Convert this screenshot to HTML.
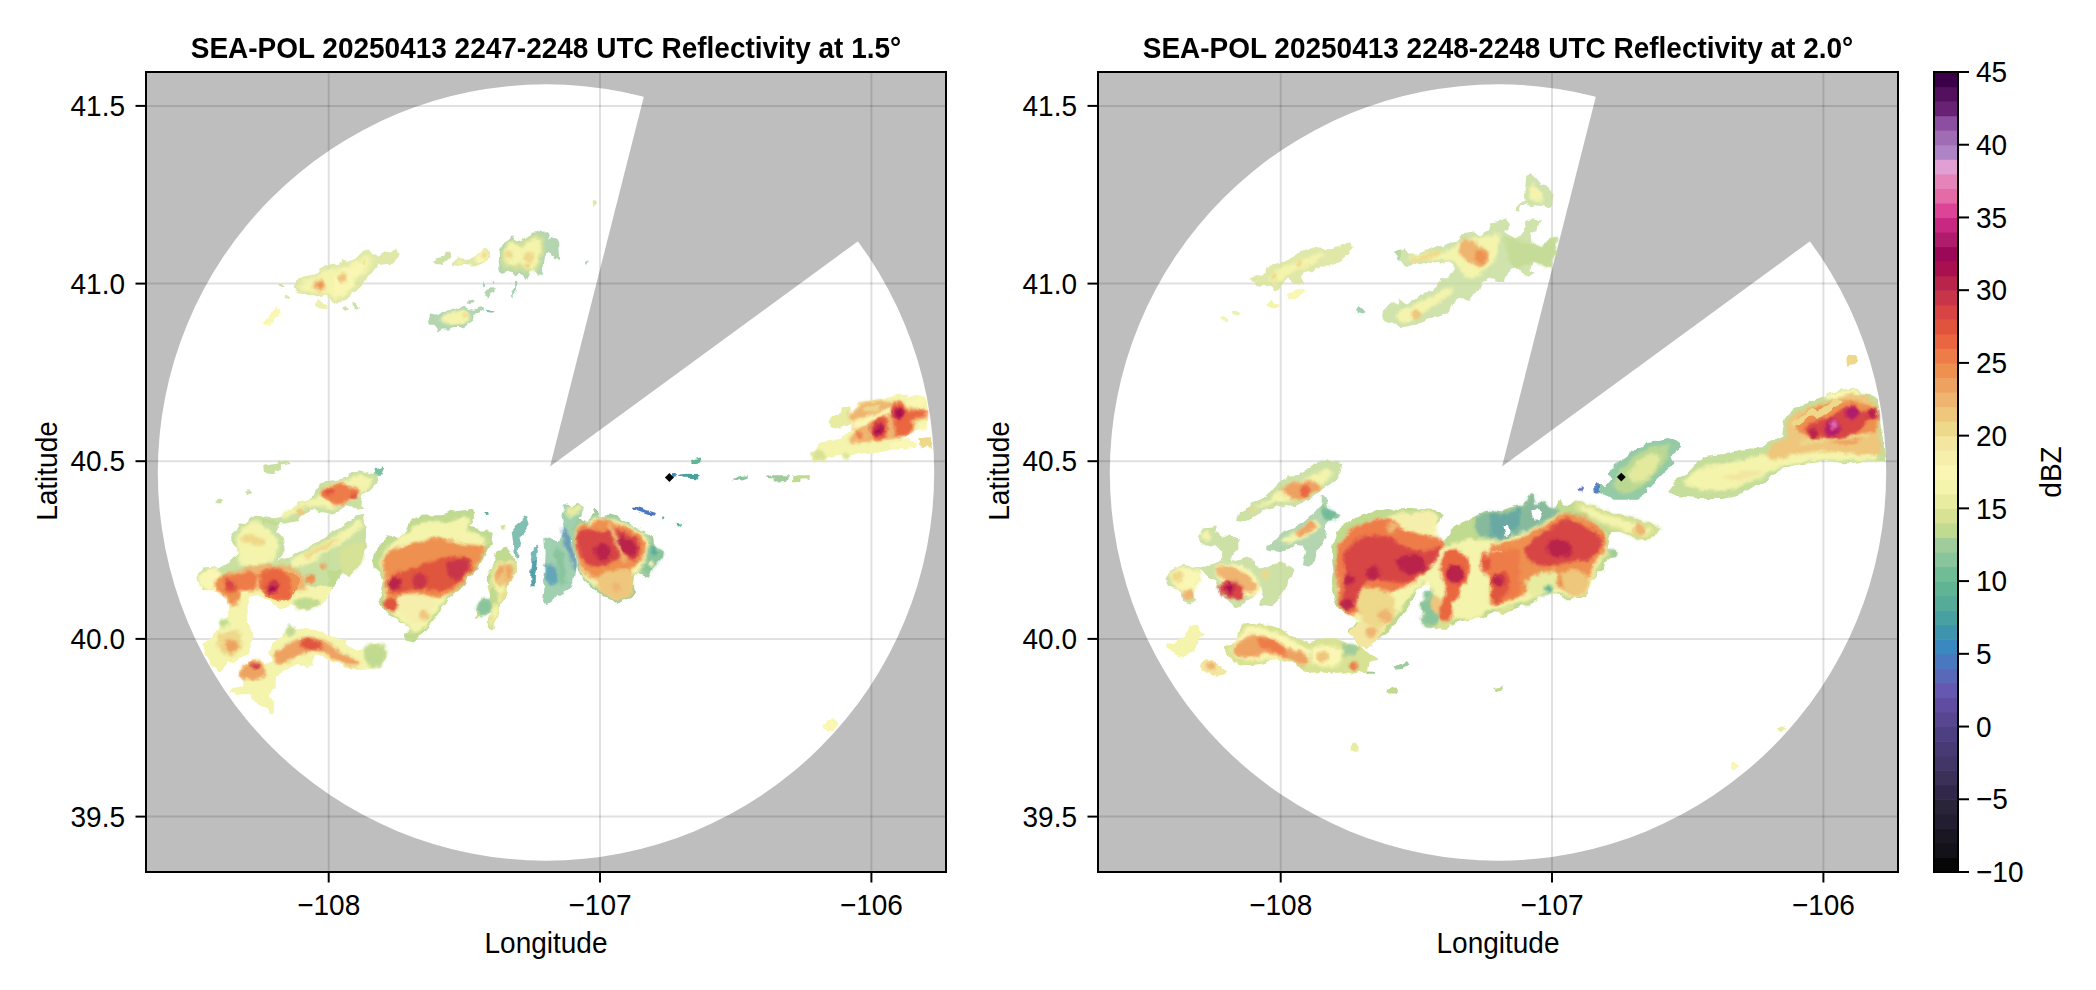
<!DOCTYPE html>
<html><head><meta charset="utf-8"><style>
html,body{margin:0;padding:0;background:#fff;width:2096px;height:990px;overflow:hidden}
svg{display:block}
text{font-family:'Liberation Sans', sans-serif;fill:#000}
</style></head><body>
<svg width="2096" height="990" viewBox="0 0 2096 990">
<defs><filter id="soft" x="-20%" y="-20%" width="140%" height="140%"><feGaussianBlur stdDeviation="1.6"/></filter><filter id="rough" x="0" y="0" width="100%" height="100%" filterUnits="userSpaceOnUse"><feTurbulence type="fractalNoise" baseFrequency="0.12" numOctaves="2" seed="3" result="n"/><feDisplacementMap in="SourceGraphic" in2="n" scale="6" xChannelSelector="R" yChannelSelector="G"/></filter></defs>
<g transform="translate(146,0)">
<clipPath id="clip0"><rect x="0" y="72" width="800" height="800"/></clipPath>
<g clip-path="url(#clip0)">
<rect x="0" y="72" width="800" height="800" fill="#bebebe"/>
<circle cx="400" cy="472.5" r="388.2" fill="#fff"/>
<path d="M404,466.5 L592.0,-274.5 L1019.6,16.3 Z" fill="#bebebe"/>
<line x1="182.7" y1="72" x2="182.7" y2="872" stroke="#000" stroke-opacity="0.12" stroke-width="2"/>
<line x1="454.0" y1="72" x2="454.0" y2="872" stroke="#000" stroke-opacity="0.12" stroke-width="2"/>
<line x1="725.4" y1="72" x2="725.4" y2="872" stroke="#000" stroke-opacity="0.12" stroke-width="2"/>
<line x1="0" y1="105.9" x2="800" y2="105.9" stroke="#000" stroke-opacity="0.12" stroke-width="2"/>
<line x1="0" y1="283.6" x2="800" y2="283.6" stroke="#000" stroke-opacity="0.12" stroke-width="2"/>
<line x1="0" y1="461.2" x2="800" y2="461.2" stroke="#000" stroke-opacity="0.12" stroke-width="2"/>
<line x1="0" y1="638.9" x2="800" y2="638.9" stroke="#000" stroke-opacity="0.12" stroke-width="2"/>
<line x1="0" y1="816.6" x2="800" y2="816.6" stroke="#000" stroke-opacity="0.12" stroke-width="2"/>
<g filter="url(#rough)"><polygon points="486.3,506.4 491.6,507.1 510.0,513.0 508.7,515.6 503.4,515.0 491.6,511.0 486.3,508.4" fill="#4a78c0"/>
<polygon points="526.0,474.3 530.8,473.9 530.9,477.2 526.5,477.7" fill="#3a88c0"/>
<polygon points="384.3,568.1 385.9,560.0 390.8,560.0 390.0,569.7 388.3,576.2 388.3,585.9 385.1,587.5 384.3,580.2" fill="#3d94ac" fill-opacity="0.8"/>
<polygon points="533.1,474.8 537.4,473.7 553.7,473.9 552.7,476.2 549.8,478.6 547.9,478.1 537.4,477.7 533.6,476.0" fill="#48a0a0"/>
<polygon points="387.8,547.8 390.5,545.2 391.8,550.4 390.5,563.5 389.2,574.0 388.5,587.2 384.6,587.2 384.6,579.3 385.2,568.8 385.9,558.3" fill="#48a0a0" fill-opacity="0.75"/>
<polygon points="365.5,530.7 370.8,524.1 376.0,520.2 378.0,515.6 380.0,516.3 382.6,524.1 378.6,530.7 374.7,538.6 373.4,546.5 372.1,558.3 369.5,558.3 368.1,547.8 366.8,539.9" fill="#55aa98" fill-opacity="0.75"/>
<polygon points="341.1,309.7 344.9,310.5 348.7,310.5 348.7,312.4 343.4,312.4 341.1,311.2" fill="#60b494" fill-opacity="0.8"/>
<polygon points="546.0,460.0 550.8,458.6 554.6,457.6 555.1,459.1 554.1,462.4 550.8,462.9 546.5,462.9" fill="#60b494"/>
<polygon points="228.6,469.1 232.8,468.4 237.8,466.3 238.1,468.4 232.8,476.9 229.3,475.5" fill="#60b494" fill-opacity="0.85"/>
<polygon points="515.9,516.9 517.8,516.3 518.5,519.5 516.5,520.5" fill="#60b494"/>
<polygon points="531.6,523.5 533.6,522.8 533.9,526.1 532.0,526.8" fill="#60b494"/>
<polygon points="339.3,511.0 341.9,510.4 342.9,513.6 339.9,514.3" fill="#60b494"/>
<polygon points="338.1,281.4 339.6,281.4 340.1,284.7 338.2,285.2" fill="#88c49c" fill-opacity="0.8"/>
<polygon points="344.6,280.6 346.4,280.9 347.6,283.2 345.7,283.5" fill="#88c49c" fill-opacity="0.8"/>
<polygon points="369.2,281.7 371.4,282.4 370.7,290.0 366.9,294.5 366.1,298.3 364.9,296.1 365.4,291.5 369.2,288.5" fill="#88c49c" fill-opacity="0.8"/>
<polygon points="587.1,479.6 591.8,478.1 595.6,475.8 601.8,475.3 601.4,477.2 595.6,479.6 591.8,481.0 587.5,480.7" fill="#88c49c"/>
<polygon points="398.3,539.9 402.3,536.0 407.5,538.6 412.8,542.5 418.0,529.4 416.7,522.8 415.4,515.0 418.0,505.8 420.7,504.4 425.9,507.1 428.6,504.4 432.5,501.8 436.4,504.4 439.1,507.1 436.4,511.0 435.1,516.3 432.5,522.8 428.6,529.4 425.9,539.9 428.6,550.4 429.9,563.5 428.6,574.0 427.2,581.9 424.6,587.2 420.7,591.1 415.4,593.7 411.5,593.7 407.5,599.0 399.7,604.2 397.0,600.3 398.3,589.8 397.0,581.9 398.3,571.4 399.0,563.5 399.7,553.0" fill="#88c49c" fill-opacity="0.8"/>
<polygon points="398.3,563.5 404.9,563.5 410.2,568.8 412.8,579.3 410.2,584.6 404.9,584.6 399.7,579.3" fill="#3a88c0" fill-opacity="0.6" filter="url(#soft)"/>
<polygon points="407.5,550.4 412.8,547.8 418.0,555.7 419.4,568.8 420.7,581.9 415.4,587.2 412.8,575.4" fill="#88c49c" filter="url(#soft)"/>
<polygon points="415.4,529.4 419.4,528.1 428.6,553.0 429.9,568.8 427.2,570.1 424.6,558.3 418.0,542.5" fill="#4a78c0" fill-opacity="0.6" filter="url(#soft)"/>
<polygon points="352.5,249.1 355.5,244.5 361.6,240.8 366.9,236.2 369.2,239.2 375.2,241.5 381.3,237.0 387.3,233.2 395.7,229.4 401.7,233.9 404.0,240.0 407.0,238.5 411.6,240.0 412.3,244.5 413.1,259.7 408.5,258.9 404.0,252.1 399.5,253.6 397.2,261.2 396.4,274.8 391.9,274.8 387.3,268.8 384.3,273.3 380.5,280.9 378.2,276.4 372.2,272.6 369.2,276.4 364.6,270.3 360.1,271.8 354.0,273.3 352.5,265.8 353.2,256.7" fill="#a0cc9c" fill-opacity="0.8"/>
<polygon points="340.4,290.0 344.9,288.2 348.7,288.5 348.7,291.5 344.9,294.5 341.1,299.1 338.8,296.1 338.1,293.0" fill="#a0cc9c" fill-opacity="0.8"/>
<polygon points="323.7,300.6 326.7,299.1 328.5,301.4 325.2,305.2 322.9,304.4" fill="#a0cc9c" fill-opacity="0.8"/>
<polygon points="439.6,260.9 441.6,260.6 441.9,264.2 440.1,264.5" fill="#a0cc9c" fill-opacity="0.8"/>
<polygon points="282.0,320.3 285.1,314.2 288.8,315.8 296.4,311.2 302.5,310.5 310.8,308.9 314.6,306.7 319.2,306.7 323.7,308.9 328.2,309.7 332.8,306.7 337.3,305.9 338.1,310.5 332.8,312.7 328.2,314.2 326.7,320.3 322.2,323.3 319.2,329.4 314.6,327.9 308.5,327.9 302.5,329.4 296.4,329.4 291.1,332.4 290.4,328.6 287.3,324.8 282.8,324.8" fill="#a0cc9c" fill-opacity="0.8"/>
<polygon points="621.9,476.2 627.1,475.3 642.9,475.3 642.4,478.6 639.5,482.0 629.0,482.4 628.1,478.6 622.4,477.9" fill="#a0cc9c"/>
<polygon points="425.9,529.4 428.6,521.5 433.8,518.9 439.1,524.1 443.0,522.8 445.6,516.3 448.2,508.4 452.2,512.3 454.8,517.6 460.1,516.3 462.7,513.6 470.6,515.0 475.8,518.9 481.1,521.5 486.3,525.5 494.2,529.4 502.1,534.6 507.3,539.9 508.7,546.5 517.8,551.7 516.5,558.3 511.3,563.5 506.0,568.8 502.1,576.7 498.1,575.4 491.6,572.7 489.0,576.7 487.6,584.6 489.0,592.4 485.0,597.7 478.5,600.3 471.9,602.9 465.3,600.3 458.8,597.7 452.2,592.4 445.6,587.2 440.4,581.9 433.8,574.0 431.2,566.2 429.9,555.7 427.2,545.2" fill="#a0cc9c"/>
<polygon points="498.1,545.2 508.7,546.5 517.8,551.7 516.5,558.3 511.3,563.5 506.0,568.8 502.1,575.4 498.1,568.8" fill="#88c49c" filter="url(#soft)"/>
<circle cx="507.3" cy="550.7" r="3.3" fill="#55aa98" filter="url(#soft)"/>
<polygon points="131.5,284.2 135.5,285.0 137.9,287.4 135.5,288.2 131.8,286.6" fill="#c0da90" fill-opacity="0.8"/>
<polygon points="195.3,307.6 199.3,306.8 202.9,310.0 200.9,311.2 196.1,309.2" fill="#c0da90" fill-opacity="0.8"/>
<polygon points="206.1,304.4 209.0,303.6 213.9,308.4 211.9,309.6 207.4,306.8" fill="#c0da90" fill-opacity="0.8"/>
<polygon points="286.6,261.2 290.4,258.2 297.2,256.7 298.7,252.1 303.2,251.4 305.5,256.7 301.0,259.7 294.9,264.2 288.8,264.2" fill="#c0da90" fill-opacity="0.8"/>
<polygon points="646.2,476.2 653.8,475.3 663.9,475.3 663.4,478.1 654.8,478.6 653.8,481.5 646.2,482.4" fill="#c0da90"/>
<polygon points="118.3,465.6 131.7,463.4 133.1,461.3 143.7,462.0 144.4,464.1 135.9,465.6 135.9,469.1 128.9,469.8 128.6,474.0 119.0,473.3" fill="#c0da90" fill-opacity="0.85"/>
<polygon points="99.2,491.7 103.4,491.3 106.2,493.1 104.1,495.0 99.9,493.8" fill="#c0da90" fill-opacity="0.85"/>
<polygon points="69.2,499.8 73.0,497.8 77.2,500.2 74.4,502.6 69.5,502.1" fill="#c0da90" fill-opacity="0.85"/>
<polygon points="168.5,492.4 172.7,483.9 179.8,481.8 193.9,479.0 201.0,476.9 205.2,471.9 213.7,470.5 222.2,472.6 227.9,475.5 232.1,474.0 231.4,481.1 227.9,486.8 223.6,491.0 216.6,495.3 215.1,499.5 217.3,509.4 210.9,509.4 205.2,506.6 199.6,505.2 193.9,509.4 185.4,513.6 177.0,512.2 167.1,509.4 160.0,512.2 154.3,516.5 152.9,522.1 143.0,523.6 134.5,522.1 131.7,526.4 123.2,523.6 117.6,525.0 114.7,517.9 119.0,516.5 127.5,519.3 134.5,517.9 143.0,510.8 152.9,503.7 161.4,500.9" fill="#c0da90" fill-opacity="0.85"/>
<polygon points="85.0,537.7 90.7,530.6 93.5,525.0 102.0,522.1 103.4,517.9 110.5,515.8 116.1,516.5 117.6,520.7 123.2,520.7 131.7,523.6 131.7,532.0 134.5,534.9 137.4,541.9 138.8,549.0 134.5,557.5 131.7,560.3 143.0,557.5 148.7,553.3 157.2,550.4 165.6,546.2 174.1,540.5 179.8,536.3 191.1,529.2 196.8,525.0 202.4,520.7 209.5,516.5 218.0,514.4 219.4,526.4 220.8,541.9 219.4,549.0 216.6,557.5 212.3,564.6 208.1,571.6 202.4,575.9 196.8,573.1 192.5,577.3 185.4,583.0 184.0,590.0 56.7,590.0 52.5,580.1 53.2,571.6 56.7,567.4 66.6,566.7 72.3,568.8 76.5,566.0 83.6,561.7 92.1,553.3 90.7,547.6 86.4,541.9" fill="#c0da90" fill-opacity="0.85"/>
<polygon points="180.4,570.0 195.5,570.0 194.0,576.1 187.9,585.2 184.9,592.7 180.4,589.7 183.4,579.1" fill="#c0da90"/>
<polygon points="227.0,560.6 230.1,550.0 237.6,542.4 239.2,536.4 246.7,534.8 254.3,537.9 258.8,534.8 261.9,524.2 263.4,519.7 272.5,515.9 284.6,515.2 296.7,515.2 305.8,512.1 314.9,510.6 327.0,509.1 330.1,513.6 327.0,519.7 324.0,525.8 330.1,527.3 336.1,531.8 342.2,530.3 346.7,533.3 345.2,542.4 340.7,551.5 336.1,560.6 330.1,569.7 322.5,578.8 314.9,587.9 307.3,593.9 299.8,603.0 293.7,612.1 287.6,619.7 281.6,627.3 275.5,634.8 267.9,642.4 258.8,639.4 257.3,634.8 263.4,628.8 260.4,624.2 251.3,619.7 242.2,615.2 236.1,609.1 233.1,600.0 236.1,590.9 237.6,581.8 234.6,572.7 228.5,566.7" fill="#c0da90"/>
<polygon points="341.9,572.7 347.1,563.5 351.1,553.0 356.3,547.8 360.3,546.5 364.2,551.7 368.1,558.3 369.5,566.2 366.8,574.0 364.2,581.9 360.3,589.8 359.0,597.7 353.7,602.9 347.1,605.6 344.5,599.0 343.2,589.8 341.9,581.9" fill="#c0da90"/>
<polygon points="146.0,288.2 152.5,278.5 160.5,276.9 170.2,272.9 178.3,264.8 186.4,263.2 192.0,265.6 196.1,260.0 200.9,262.4 207.4,260.8 215.5,252.7 221.1,249.5 226.8,254.3 231.6,256.7 238.1,252.7 244.5,251.1 251.0,248.7 253.4,251.9 249.4,262.4 239.7,264.0 231.6,265.6 225.2,273.7 220.3,276.9 215.5,285.0 207.4,293.1 200.9,299.5 191.2,302.8 184.8,299.5 179.9,294.7 171.9,296.3 162.2,296.3 154.1,293.1" fill="#d8e294" fill-opacity="0.8"/>
<polygon points="137.1,295.5 141.2,294.7 146.0,297.6 145.2,299.5 138.7,297.9" fill="#d8e294" fill-opacity="0.8"/>
<polygon points="305.5,262.0 310.1,258.9 316.1,258.2 322.2,259.7 328.2,256.7 334.3,252.1 339.6,247.6 341.9,249.8 344.2,257.4 338.8,262.7 332.8,265.0 325.2,265.8 317.6,265.0 311.6,265.8 307.0,265.0" fill="#d8e294" fill-opacity="0.8"/>
<polygon points="354.8,250.6 358.5,244.5 366.1,239.2 372.2,242.3 378.2,240.0 385.8,235.5 393.4,233.2 397.9,235.5 398.7,247.6 394.9,259.7 391.9,271.8 385.8,271.8 379.8,274.8 373.7,268.8 369.2,271.8 363.1,268.8 357.0,268.8 354.8,259.7" fill="#d8e294" fill-opacity="0.8" filter="url(#soft)"/>
<polygon points="445.7,200.6 449.5,200.3 449.8,205.2 446.1,205.5" fill="#d8e294" fill-opacity="0.8"/>
<polygon points="193.9,549.0 205.2,543.4 219.4,541.9 218.0,557.5 210.9,568.8 202.4,574.5 196.8,571.6 193.9,563.2" fill="#d8e294" fill-opacity="0.85" filter="url(#soft)"/>
<polygon points="355.7,525.5 359.0,524.8 359.6,529.4 356.3,530.1" fill="#d8e294"/>
<polygon points="341.5,573.7 344.7,568.1 347.9,562.4 354.4,560.0 369.8,560.0 369.8,571.3 365.7,577.8 362.5,584.2 360.9,590.7 359.3,597.2 358.4,601.2 354.4,603.6 352.8,608.5 352.8,616.6 349.6,621.4 347.9,627.1 346.3,629.5 343.1,627.9 341.5,623.0 343.9,616.6 345.5,611.7 341.5,614.1 338.2,614.9 333.4,615.8 330.2,619.0 328.5,618.2 331.0,612.5 330.2,608.5 333.4,602.0 338.2,598.8 343.9,599.6 347.9,603.6 351.2,600.4 352.8,593.9 349.6,589.9 346.3,589.1 343.1,592.3 341.5,586.7 343.9,581.0 344.7,576.2" fill="#d8e294"/>
<polygon points="330.2,608.5 333.4,602.0 338.2,598.8 343.9,599.6 346.3,605.3 344.7,611.7 338.2,614.9 333.4,615.8 331.0,612.5" fill="#88c49c" filter="url(#soft)"/>
<polygon points="168.6,302.8 172.7,299.5 178.3,302.0 182.4,306.8 179.9,309.2 173.5,308.4 169.4,306.0" fill="#e8eca0" fill-opacity="0.8"/>
<polygon points="684.0,427.3 685.8,415.5 694.9,412.7 695.8,407.3 703.5,406.4 704.0,425.5 694.9,427.3 686.7,429.1" fill="#e8eca0"/>
<polygon points="418.0,509.7 423.3,507.1 428.6,505.8 433.8,503.1 437.7,507.1 433.8,512.3 428.6,516.3 423.3,517.6 419.4,515.0" fill="#e8eca0" filter="url(#soft)"/>
<polygon points="152.5,286.6 158.9,281.8 168.6,276.9 176.7,272.1 184.8,270.5 194.5,268.0 202.5,267.2 210.6,260.8 220.3,255.9 226.8,259.2 223.5,267.2 217.1,273.7 210.6,280.2 204.2,289.9 197.7,296.3 191.2,299.5 184.8,296.3 178.3,293.1 168.6,293.1 158.9,291.5" fill="#f4f4ac" filter="url(#soft)"/>
<polygon points="310.1,261.2 314.6,259.7 317.6,262.0 313.8,264.2 310.4,263.9" fill="#f4f4ac" filter="url(#soft)"/>
<polygon points="358.5,250.6 361.6,244.5 366.9,241.5 372.2,244.5 375.2,247.6 379.8,243.0 385.8,240.0 391.1,237.0 394.9,240.0 394.2,252.1 391.1,261.2 388.8,268.8 384.3,270.3 378.2,268.8 374.5,261.2 369.2,264.2 363.1,265.0 359.3,261.2 358.2,255.2" fill="#f4f4ac" filter="url(#soft)"/>
<polygon points="294.9,317.3 299.5,313.5 308.5,312.0 316.1,309.7 322.2,311.2 323.7,317.3 320.7,321.8 314.6,324.8 307.0,324.8 299.5,323.3 295.7,321.8" fill="#f4f4ac" filter="url(#soft)"/>
<polygon points="666.7,451.8 671.3,447.3 675.8,442.7 683.1,440.0 693.1,439.1 694.0,436.4 701.3,433.6 704.9,430.9 708.5,426.4 704.9,421.8 704.0,411.8 711.3,409.1 712.2,404.1 717.6,401.8 728.5,399.5 737.6,398.2 744.9,396.8 754.0,394.5 761.3,393.6 762.2,397.7 770.4,397.3 778.5,396.4 780.4,400.9 782.2,411.8 781.3,420.0 780.4,427.3 772.2,429.1 767.6,431.8 763.1,434.5 756.7,440.0 744.9,443.6 744.9,450.0 740.4,451.8 724.9,451.8 713.1,452.7 704.0,455.5 703.1,458.2 697.6,458.2 690.4,455.5 681.3,457.3 679.5,460.0 666.7,460.0" fill="#f4f4ac"/>
<polygon points="171.3,496.7 179.8,485.4 196.8,481.1 213.7,474.0 226.5,478.3 225.0,485.4 213.7,495.3 203.8,499.5 193.9,506.6 182.6,509.4 171.3,506.6 160.0,506.6 151.5,512.2 143.0,516.5 137.4,519.3 134.5,516.5 143.0,509.4 154.3,503.7 164.2,499.5" fill="#f4f4ac" filter="url(#soft)"/>
<polygon points="90.7,537.7 94.9,529.2 103.4,523.6 111.9,520.7 120.4,529.2 128.9,534.9 133.1,546.2 128.9,557.5 123.2,563.2 114.7,566.0 103.4,567.4 93.5,563.2 92.1,551.8 90.7,546.2" fill="#f4f4ac" filter="url(#soft)"/>
<polygon points="143.0,560.3 157.2,553.3 171.3,546.2 185.4,537.7 199.6,529.2 210.9,520.7 216.6,519.3 216.6,526.4 206.7,534.9 196.8,541.9 185.4,549.0 177.0,554.7 168.5,560.3 157.2,566.0 145.8,567.4" fill="#f4f4ac" filter="url(#soft)"/>
<polygon points="56.1,586.7 134.9,586.7 186.4,586.7 184.9,592.7 178.8,600.3 172.8,604.8 162.2,609.4 153.1,609.4 147.0,604.8 139.5,607.9 133.4,609.4 128.8,606.4 122.8,600.3 116.7,597.3 110.7,594.2 104.6,595.8 101.6,603.3 101.6,620.0 104.6,624.5 107.6,635.2 104.6,645.8 101.6,654.8 92.5,659.4 89.5,662.4 81.9,660.9 77.3,668.5 71.3,673.0 66.7,667.0 62.2,659.4 57.6,647.3 56.1,644.2 62.2,639.7 71.3,630.6 72.8,623.0 78.8,620.0 81.9,615.5 83.4,607.9 78.8,597.3 68.2,591.2 62.2,585.2 56.1,579.1" fill="#f4f4ac"/>
<polygon points="122.8,651.8 130.4,639.7 137.9,633.6 141.0,626.1 144.0,624.5 150.1,630.6 159.2,629.1 172.8,630.6 180.4,635.2 189.5,638.2 200.1,639.7 201.6,645.8 210.7,650.3 219.8,648.8 224.3,644.2 231.9,643.5 239.5,645.8 239.5,657.9 236.4,663.9 233.4,667.0 225.8,668.5 218.2,670.0 210.7,668.5 204.6,667.0 198.5,668.5 192.5,663.9 184.9,660.9 177.3,657.9 172.8,654.8 165.2,660.9 166.7,665.5 160.7,667.0 153.1,663.9 144.0,667.0 134.9,673.0 128.8,679.1 128.8,688.2 122.8,694.2 128.8,703.3 128.8,712.4 124.3,713.2 116.7,706.4 107.6,700.3 104.6,694.2 94.0,694.2 83.4,692.7 84.9,689.7 92.5,686.7 97.0,685.2 98.5,679.1 92.5,676.1 94.0,668.5 100.1,662.4 107.6,659.4 113.7,659.4 119.8,663.9 124.3,662.4 125.8,657.9" fill="#f4f4ac"/>
<polygon points="233.1,563.6 237.6,551.5 246.7,542.4 261.9,533.3 269.5,524.2 284.6,521.2 299.8,522.7 314.9,516.7 324.0,518.2 321.0,530.3 333.1,534.8 340.7,539.4 336.1,551.5 330.1,563.6 321.0,575.8 311.9,586.4 302.8,595.5 295.2,606.1 287.6,615.2 280.1,625.8 271.0,633.3 263.4,631.8 261.9,624.2 249.8,616.7 240.7,610.6 237.6,600.0 239.2,587.9 237.6,572.7" fill="#f4f4ac" filter="url(#soft)"/>
<polygon points="428.6,532.0 433.8,524.1 441.7,525.5 449.6,516.3 458.8,518.9 467.9,518.9 478.5,522.8 489.0,528.1 499.5,534.6 503.4,542.5 502.1,553.0 498.1,563.5 494.2,571.4 487.6,575.4 485.0,589.8 478.5,596.4 470.6,599.0 462.7,596.4 454.8,589.8 446.9,584.6 439.1,578.0 433.8,568.8 431.2,555.7" fill="#f4f4ac" filter="url(#soft)"/>
<polygon points="346.3,574.5 349.6,568.1 356.0,562.4 366.5,561.6 365.7,572.9 360.9,584.2 357.6,593.9 356.0,600.4 352.8,602.0 352.0,592.3 347.9,586.7 345.5,581.0" fill="#f4f4ac" filter="url(#soft)"/>
<polygon points="345.5,611.7 348.7,606.1 352.0,605.3 352.0,614.9 348.7,621.4 346.3,624.6 343.9,623.0" fill="#f4f4ac" filter="url(#soft)"/>
<polygon points="666.7,452.7 672.2,449.1 677.6,451.8 680.4,457.3 679.5,460.0 666.7,460.0" fill="#d8e294" filter="url(#soft)"/>
<polygon points="696.7,454.5 703.1,453.6 703.5,458.2 697.6,458.2" fill="#d8e294" filter="url(#soft)"/>
<polygon points="148.5,600.3 159.2,597.3 172.8,600.3 172.8,604.8 162.2,609.4 153.1,609.4 147.0,604.8" fill="#c0da90" filter="url(#soft)"/>
<polygon points="72.8,621.5 80.4,618.5 83.4,624.5 75.8,627.6" fill="#c0da90" filter="url(#soft)"/>
<polygon points="218.2,648.8 224.3,644.2 231.9,643.5 239.5,645.8 239.5,657.9 236.4,663.9 233.4,667.0 225.8,668.5 219.8,660.9" fill="#c0da90" filter="url(#soft)"/>
<polygon points="137.9,633.6 141.0,626.1 144.0,624.5 150.1,630.6 147.0,635.2" fill="#c0da90" filter="url(#soft)"/>
<polygon points="188.0,276.9 194.5,272.1 204.2,268.0 213.9,264.0 220.3,260.8 217.1,270.5 210.6,276.9 204.2,285.0 197.7,293.1 191.2,296.3 188.0,289.9" fill="#faf7b4" filter="url(#soft)"/>
<polygon points="116.9,322.2 121.8,317.3 125.0,312.5 129.0,307.6 133.9,309.2 134.7,313.3 129.8,318.9 125.0,324.6 119.3,325.4" fill="#faf7b4"/>
<polygon points="328.2,258.9 332.8,253.6 338.8,249.8 342.6,256.7 338.1,262.0 331.3,262.7" fill="#faf7b4" filter="url(#soft)"/>
<polygon points="756.7,440.0 763.1,439.1 771.3,444.5 770.4,447.7 760.4,449.1 744.9,450.0 744.9,443.6" fill="#faf7b4"/>
<polygon points="771.3,423.6 780.4,423.6 780.8,429.1 772.2,429.5" fill="#faf7b4" filter="url(#soft)"/>
<polygon points="761.3,400.9 770.4,398.2 778.5,397.3 779.5,401.8 772.2,405.5 763.1,405.5" fill="#faf7b4" filter="url(#soft)"/>
<polygon points="53.9,573.1 61.0,568.8 69.5,568.1 75.1,571.6 76.5,580.1 72.3,590.0 58.1,590.0 53.9,584.4" fill="#faf7b4" filter="url(#soft)"/>
<circle cx="505.4" cy="563.5" r="2.9" fill="#faf7b4" filter="url(#soft)"/>
<polygon points="676.2,726.3 679.3,723.7 681.3,719.2 687.3,718.2 692.9,723.7 688.3,727.3 687.8,730.8 681.3,731.8 677.7,728.3" fill="#faf7b4"/>
<polygon points="254.3,593.9 266.4,593.9 281.6,597.0 290.7,598.5 287.6,606.1 281.6,615.2 275.5,622.7 266.4,621.2 257.3,615.2 251.3,606.1" fill="#f6efac" filter="url(#soft)"/>
<circle cx="218.7" cy="262.1" r="1.9" fill="#eed88a" filter="url(#soft)"/>
<circle cx="363.4" cy="254.4" r="3.8" fill="#eed88a" filter="url(#soft)"/>
<circle cx="382.5" cy="257.4" r="4.8" fill="#eed88a" filter="url(#soft)"/>
<circle cx="319.2" cy="315.5" r="2.4" fill="#eed88a" filter="url(#soft)"/>
<polygon points="773.1,438.2 784.9,437.3 785.8,447.3 774.9,448.2" fill="#eed88a"/>
<polygon points="94.9,537.7 103.4,533.5 111.9,536.3 120.4,540.5 119.0,546.2 111.9,544.8 103.4,543.4 96.3,541.9" fill="#eed88a" filter="url(#soft)"/>
<polygon points="157.2,554.7 171.3,547.6 185.4,540.5 193.9,537.7 185.4,546.2 171.3,553.3 160.0,558.9" fill="#eed88a" filter="url(#soft)"/>
<polygon points="72.8,633.6 83.4,630.6 94.0,632.1 97.0,642.7 94.0,651.8 86.4,656.4 77.3,654.8 71.3,645.8" fill="#eed88a" filter="url(#soft)"/>
<polygon points="352.8,595.6 356.8,592.3 359.3,594.7 356.0,598.8" fill="#eed88a" filter="url(#soft)"/>
<circle cx="345.9" cy="619.4" r="2.3" fill="#eed88a" filter="url(#soft)"/>
<circle cx="196.9" cy="277.7" r="4.5" fill="#eec67c" filter="url(#soft)"/>
<circle cx="337.6" cy="254.8" r="2.1" fill="#eec67c" filter="url(#soft)"/>
<circle cx="381.6" cy="265.8" r="2.7" fill="#eec67c" filter="url(#soft)"/>
<circle cx="154.3" cy="511.5" r="3.5" fill="#eec67c" filter="url(#soft)"/>
<circle cx="278.5" cy="615.2" r="5.3" fill="#eec67c" filter="url(#soft)"/>
<polygon points="348.4,574.0 353.7,566.2 357.6,560.9 362.9,563.5 366.8,566.2 364.2,574.0 360.3,581.9 356.3,587.2 351.1,585.9 348.4,580.6" fill="#eec67c" filter="url(#soft)"/>
<circle cx="173.5" cy="285.3" r="6.1" fill="#eeb470" filter="url(#soft)"/>
<polygon points="703.1,412.7 711.3,410.0 715.8,402.7 728.5,400.9 735.8,400.0 743.1,402.7 746.7,400.9 755.8,401.8 763.1,406.4 772.2,410.0 781.3,411.8 781.3,418.2 772.2,421.8 767.6,427.3 763.1,432.7 756.7,436.4 748.5,438.2 740.4,439.1 730.4,440.9 717.6,442.7 708.5,443.6 701.3,440.9 704.9,436.4 710.4,430.9 708.5,427.3 704.9,421.8 703.1,418.2" fill="#eeb470" filter="url(#soft)"/>
<polygon points="75.1,575.9 86.4,571.6 100.6,567.4 114.7,564.6 128.9,564.6 143.0,566.0 151.5,570.2 157.2,577.3 160.0,590.0 70.9,590.0 72.3,583.0" fill="#eeb470" filter="url(#soft)"/>
<circle cx="164.5" cy="579.1" r="4.5" fill="#eeb470"/>
<polygon points="347.9,576.2 352.0,569.7 356.0,566.5 357.6,570.5 354.4,577.8 351.2,581.0 348.7,580.2" fill="#eeb470" filter="url(#soft)"/>
<polygon points="359.3,580.2 362.5,572.1 366.5,565.7 368.1,568.9 365.7,576.2 362.5,582.6 360.9,585.9 359.3,584.2" fill="#eeb470" filter="url(#soft)"/>
<polygon points="704.9,422.7 712.2,420.0 719.5,417.3 726.7,414.5 734.0,411.8 741.3,408.2 744.9,407.3 744.9,413.6 738.5,416.4 731.3,418.2 723.1,422.7 717.6,427.3 712.2,429.1 708.5,427.3" fill="#faf7b4" filter="url(#soft)"/>
<polygon points="716.7,407.3 726.7,405.5 735.8,404.5 732.2,410.0 723.1,411.8 716.7,411.8" fill="#eed88a" filter="url(#soft)"/>
<circle cx="177.0" cy="566.0" r="3.5" fill="#eea262" filter="url(#soft)"/>
<circle cx="84.9" cy="645.8" r="6.8" fill="#eea262" filter="url(#soft)"/>
<polygon points="128.8,654.8 137.9,645.8 150.1,639.7 159.2,636.7 174.3,638.2 183.4,642.7 192.5,650.3 204.6,657.9 213.7,660.9 210.7,665.5 201.6,665.5 192.5,662.4 180.4,654.8 171.3,650.3 162.2,651.8 153.1,654.8 142.5,660.9 134.9,663.9 128.8,662.4" fill="#eea262" filter="url(#soft)"/>
<polygon points="94.0,670.0 101.6,662.4 110.7,659.4 118.2,665.5 119.8,674.5 112.2,679.1 101.6,679.1 94.0,677.6" fill="#eea262" filter="url(#soft)"/>
<polygon points="350.4,571.4 355.0,565.5 357.6,567.5 355.0,575.4 351.7,576.7" fill="#eea262" filter="url(#soft)"/>
<polygon points="360.3,568.8 364.9,564.9 366.2,568.8 362.2,578.0 359.6,576.7" fill="#eea262" filter="url(#soft)"/>
<circle cx="173.8" cy="285.8" r="3.2" fill="#ee9050" filter="url(#soft)"/>
<circle cx="164.2" cy="578.7" r="5.0" fill="#ee9050" filter="url(#soft)"/>
<polygon points="68.2,583.6 77.3,576.1 89.5,573.0 95.5,582.1 94.0,594.2 91.0,604.8 84.9,606.4 80.4,597.3 71.3,591.2" fill="#ee9050" filter="url(#soft)"/>
<polygon points="110.7,574.5 128.8,571.5 147.0,573.0 153.1,579.1 150.1,589.7 144.0,600.3 134.9,601.8 125.8,598.8 116.7,592.7 115.2,585.2 112.2,576.1" fill="#ee9050"/>
<polygon points="237.6,557.6 243.7,550.0 254.3,547.0 263.4,543.9 272.5,542.4 281.6,539.4 287.6,537.9 299.8,539.4 308.8,542.4 317.9,543.9 330.1,545.5 339.2,547.0 336.1,557.6 330.1,566.7 322.5,575.8 314.9,584.8 305.8,592.4 296.7,597.0 284.6,597.0 269.5,593.9 257.3,593.9 251.3,597.0 246.7,606.1 240.7,609.1 237.6,603.0 240.7,593.9 239.2,584.8 239.2,572.7 236.1,563.6" fill="#ee9050" filter="url(#soft)"/>
<polygon points="429.9,529.4 436.4,524.1 444.3,525.5 452.2,518.9 460.1,520.2 467.9,522.8 475.8,525.5 485.0,529.4 494.2,534.6 499.5,542.5 499.5,551.7 496.8,558.3 491.6,563.5 486.3,568.8 485.0,576.7 481.1,587.2 473.2,592.4 465.3,592.4 458.8,585.9 452.2,579.3 444.3,576.7 437.7,571.4 432.5,563.5 431.2,550.4 429.9,539.9" fill="#ee9050" filter="url(#soft)"/>
<polygon points="449.6,576.7 458.8,571.4 471.9,570.1 485.0,568.8 487.6,581.9 485.0,595.1 471.9,600.3 460.1,596.4 452.2,589.8" fill="#eec67c" filter="url(#soft)"/>
<circle cx="470.6" cy="587.2" r="4.2" fill="#eeb470" filter="url(#soft)"/>
<circle cx="713.1" cy="434.5" r="3.2" fill="#ee7c48" filter="url(#soft)"/>
<polygon points="175.5,489.6 184.0,485.4 196.8,483.2 201.0,485.4 213.7,489.6 212.3,495.3 205.2,498.1 198.2,503.7 191.1,505.2 184.0,502.3 178.4,498.1 175.5,493.8" fill="#ee7c48" filter="url(#soft)"/>
<polygon points="77.9,580.1 89.3,574.5 103.4,571.6 111.9,574.5 109.1,590.0 76.5,590.0" fill="#ee7c48" filter="url(#soft)"/>
<polygon points="724.9,423.6 731.3,418.2 737.6,416.4 741.3,420.0 741.3,430.9 739.5,438.2 732.2,440.9 726.7,439.1 724.9,432.7" fill="#ea6640" filter="url(#soft)"/>
<polygon points="745.8,402.7 755.8,402.7 758.5,407.3 763.1,410.9 772.2,410.0 781.3,411.8 780.4,416.4 772.2,417.3 764.9,420.9 767.6,427.3 763.1,434.5 755.8,437.3 750.4,436.4 748.5,429.1 746.7,418.2 745.8,410.0" fill="#ea6640" filter="url(#soft)"/>
<polygon points="114.7,573.1 126.0,567.4 135.9,570.2 143.0,577.3 145.8,590.0 114.7,590.0" fill="#ea6640" filter="url(#soft)"/>
<polygon points="116.7,586.7 125.8,582.1 137.9,585.2 147.0,591.2 144.0,598.8 134.9,600.3 125.8,597.3 118.2,592.7" fill="#ea6640" filter="url(#soft)"/>
<circle cx="106.1" cy="663.9" r="2.7" fill="#ea6640" filter="url(#soft)"/>
<circle cx="183.3" cy="491.7" r="3.5" fill="#e0543e" filter="url(#soft)"/>
<circle cx="208.1" cy="495.3" r="3.1" fill="#e0543e" filter="url(#soft)"/>
<circle cx="84.9" cy="586.7" r="6.1" fill="#e0543e" filter="url(#soft)"/>
<polygon points="153.1,641.2 162.2,638.2 174.3,641.2 177.3,648.8 169.8,650.3 159.2,648.8 153.1,645.8" fill="#e0543e" filter="url(#soft)"/>
<polygon points="242.2,578.8 251.3,572.7 263.4,569.7 275.5,565.2 287.6,560.6 299.8,557.6 308.8,556.1 317.9,557.6 327.0,560.6 324.0,569.7 314.9,581.8 305.8,587.9 293.7,590.9 281.6,590.9 269.5,589.4 260.4,590.9 252.8,593.9 245.2,590.9" fill="#e0543e" filter="url(#soft)"/>
<circle cx="245.2" cy="604.5" r="6.8" fill="#e0543e" filter="url(#soft)"/>
<circle cx="83.6" cy="584.4" r="4.2" fill="#d84444" filter="url(#soft)"/>
<polygon points="431.2,533.3 437.7,529.4 446.9,529.4 456.1,532.0 464.0,530.7 467.9,528.1 475.8,530.7 485.0,534.6 491.6,539.9 494.2,547.8 492.9,555.7 486.3,559.6 478.5,555.7 470.6,559.6 462.7,563.5 454.8,566.2 446.9,566.2 439.1,563.5 433.8,555.7 431.2,545.2" fill="#d84444" filter="url(#soft)"/>
<polygon points="460.1,524.1 465.3,522.8 475.8,545.2 481.1,560.9 477.1,563.5 470.6,546.5" fill="#eeb470" filter="url(#soft)"/>
<polygon points="726.7,427.3 730.4,422.7 735.8,421.8 738.5,425.5 737.6,433.6 733.1,435.5 727.6,434.5" fill="#c83448" filter="url(#soft)"/>
<polygon points="746.7,409.1 750.4,406.4 755.8,407.3 757.6,412.7 756.7,419.1 751.3,420.0 748.5,417.3" fill="#c83448" filter="url(#soft)"/>
<circle cx="127.5" cy="585.8" r="5.7" fill="#c83448" filter="url(#soft)"/>
<circle cx="109.9" cy="667.0" r="3.3" fill="#c83448" filter="url(#soft)"/>
<polygon points="299.8,565.2 308.8,559.1 319.5,559.1 324.0,565.2 317.9,575.8 310.4,580.3 302.8,577.3" fill="#c83448" filter="url(#soft)"/>
<circle cx="274.0" cy="580.3" r="7.6" fill="#c83448" filter="url(#soft)"/>
<circle cx="248.2" cy="583.3" r="6.4" fill="#b8244c" filter="url(#soft)"/>
<polygon points="448.2,549.1 453.5,543.8 460.1,545.2 465.3,551.7 464.0,559.6 457.4,561.6 450.9,558.3" fill="#b8244c" filter="url(#soft)"/>
<polygon points="470.6,539.9 475.8,536.0 483.7,538.6 490.3,546.5 490.3,554.3 485.0,555.7 477.1,550.4" fill="#b8244c" filter="url(#soft)"/>
<polygon points="727.6,430.9 730.4,427.3 734.0,425.5 736.3,428.2 735.8,433.6 731.3,434.5 728.1,433.6" fill="#a8104f" filter="url(#soft)"/>
<polygon points="748.5,412.7 751.3,409.1 754.9,409.1 756.7,413.6 754.9,418.2 750.4,418.2" fill="#a8104f" filter="url(#soft)"/>
<circle cx="125.8" cy="589.4" r="3.8" fill="#a8104f" filter="url(#soft)"/></g>
<polygon points="523.4,472.9 527.9,477.4 523.4,481.9 518.9,477.4" fill="#060606"/>
</g>
<rect x="0" y="72" width="800" height="800" fill="none" stroke="#000" stroke-width="2"/>
<line x1="182.7" y1="872" x2="182.7" y2="882.5" stroke="#000" stroke-width="2"/>
<text transform="translate(182.7,914.5) scale(1,1.06)" font-size="28" text-anchor="middle">−108</text>
<line x1="454.0" y1="872" x2="454.0" y2="882.5" stroke="#000" stroke-width="2"/>
<text transform="translate(454.0,914.5) scale(1,1.06)" font-size="28" text-anchor="middle">−107</text>
<line x1="725.4" y1="872" x2="725.4" y2="882.5" stroke="#000" stroke-width="2"/>
<text transform="translate(725.4,914.5) scale(1,1.06)" font-size="28" text-anchor="middle">−106</text>
<line x1="-10.5" y1="105.9" x2="0" y2="105.9" stroke="#000" stroke-width="2"/>
<text transform="translate(-21,115.9) scale(1,1.06)" font-size="28" text-anchor="end">41.5</text>
<line x1="-10.5" y1="283.6" x2="0" y2="283.6" stroke="#000" stroke-width="2"/>
<text transform="translate(-21,293.6) scale(1,1.06)" font-size="28" text-anchor="end">41.0</text>
<line x1="-10.5" y1="461.2" x2="0" y2="461.2" stroke="#000" stroke-width="2"/>
<text transform="translate(-21,471.2) scale(1,1.06)" font-size="28" text-anchor="end">40.5</text>
<line x1="-10.5" y1="638.9" x2="0" y2="638.9" stroke="#000" stroke-width="2"/>
<text transform="translate(-21,648.9) scale(1,1.06)" font-size="28" text-anchor="end">40.0</text>
<line x1="-10.5" y1="816.6" x2="0" y2="816.6" stroke="#000" stroke-width="2"/>
<text transform="translate(-21,826.6) scale(1,1.06)" font-size="28" text-anchor="end">39.5</text>
<text transform="translate(400,58) scale(1,1.075)" font-size="28" font-weight="bold" text-anchor="middle">SEA-POL 20250413 2247-2248 UTC Reflectivity at 1.5°</text>
<text transform="translate(400,953) scale(1,1.06)" font-size="28" text-anchor="middle">Longitude</text>
<text transform="translate(-89,471) rotate(-90) scale(1,1.06)" font-size="28" text-anchor="middle">Latitude</text>
</g>
<g transform="translate(1098,0)">
<clipPath id="clip1"><rect x="0" y="72" width="800" height="800"/></clipPath>
<g clip-path="url(#clip1)">
<rect x="0" y="72" width="800" height="800" fill="#bebebe"/>
<circle cx="400" cy="472.5" r="388.2" fill="#fff"/>
<path d="M404,466.5 L592.0,-274.5 L1019.6,16.3 Z" fill="#bebebe"/>
<line x1="182.7" y1="72" x2="182.7" y2="872" stroke="#000" stroke-opacity="0.12" stroke-width="2"/>
<line x1="454.0" y1="72" x2="454.0" y2="872" stroke="#000" stroke-opacity="0.12" stroke-width="2"/>
<line x1="725.4" y1="72" x2="725.4" y2="872" stroke="#000" stroke-opacity="0.12" stroke-width="2"/>
<line x1="0" y1="105.9" x2="800" y2="105.9" stroke="#000" stroke-opacity="0.12" stroke-width="2"/>
<line x1="0" y1="283.6" x2="800" y2="283.6" stroke="#000" stroke-opacity="0.12" stroke-width="2"/>
<line x1="0" y1="461.2" x2="800" y2="461.2" stroke="#000" stroke-opacity="0.12" stroke-width="2"/>
<line x1="0" y1="638.9" x2="800" y2="638.9" stroke="#000" stroke-opacity="0.12" stroke-width="2"/>
<line x1="0" y1="816.6" x2="800" y2="816.6" stroke="#000" stroke-opacity="0.12" stroke-width="2"/>
<g filter="url(#rough)"><polygon points="481.5,489.2 483.9,486.0 485.0,487.9 483.1,491.7" fill="#5a68b8" fill-opacity="0.9"/>
<polygon points="259.1,309.4 261.7,305.9 267.7,311.9 265.1,313.6 259.9,311.9" fill="#88c49c" fill-opacity="0.8"/>
<polygon points="512.3,469.8 515.5,466.5 523.6,460.0 530.1,455.2 535.0,450.3 541.5,447.1 548.0,442.2 559.3,440.6 569.1,438.1 575.5,439.0 582.0,443.8 582.0,447.1 575.5,451.9 572.3,456.8 575.5,463.3 569.1,469.8 562.6,476.3 556.1,482.7 549.6,489.2 546.4,495.7 539.9,499.8 515.5,499.8 509.0,495.7 502.6,494.1 497.7,490.9 499.3,486.0 507.4,486.0 512.3,479.5 510.7,474.6" fill="#88c49c" fill-opacity="0.9"/>
<polygon points="496.1,486.0 498.5,481.9 500.9,484.4 500.9,492.5 496.9,492.5" fill="#4a78c0" fill-opacity="0.9"/>
<polygon points="296.0,251.8 302.0,249.3 302.0,260.4 299.4,258.7" fill="#a0cc9c" fill-opacity="0.8"/>
<polygon points="168.7,547.9 175.6,541.0 182.5,534.1 192.8,529.0 201.4,523.8 209.9,518.7 216.8,511.8 223.7,506.7 223.7,494.6 228.8,499.8 230.5,510.1 237.4,511.8 242.6,515.2 239.1,518.7 230.5,520.4 225.4,527.3 228.8,537.6 223.7,542.7 220.2,549.6 216.8,559.9 209.9,566.7 204.8,565.0 206.5,558.2 208.2,551.3 203.1,546.1 196.2,544.4 189.3,549.6 184.2,553.0 179.0,551.3 172.2,551.3" fill="#a0cc9c" fill-opacity="0.8"/>
<polygon points="295.3,666.8 303.9,663.0 308.7,660.1 311.5,664.9 303.9,667.7 297.2,668.7" fill="#a0cc9c"/>
<polygon points="269.6,670.6 277.2,671.0 276.8,673.7 269.9,673.7" fill="#a0cc9c"/>
<polygon points="223.7,504.9 230.5,508.4 239.1,513.5 240.8,517.8 230.5,520.4 225.4,518.7" fill="#60b494" fill-opacity="0.8" filter="url(#soft)"/>
<polygon points="428.4,176.4 432.0,172.7 437.5,177.3 442.9,183.6 448.4,185.5 455.6,192.7 453.8,207.3 450.2,208.2 442.9,203.6 433.8,207.3 428.4,203.6 422.9,205.5 421.1,212.7 417.5,211.8 419.3,207.3 422.9,201.8 427.5,200.9 426.5,190.9" fill="#c0da90" fill-opacity="0.75"/>
<polygon points="296.5,252.7 306.5,248.2 310.2,254.5 319.3,254.5 326.5,250.9 337.5,247.3 342.9,244.5 346.5,246.4 350.2,242.7 359.3,241.8 366.5,232.7 373.8,231.8 381.1,236.4 390.2,230.9 392.0,223.6 402.9,220.0 408.4,218.2 412.0,223.6 410.2,229.1 404.7,230.9 410.2,234.5 417.5,238.2 422.9,236.4 426.5,229.1 428.4,220.0 435.6,217.3 442.0,220.0 439.3,230.9 432.0,232.7 433.8,243.6 442.9,247.3 452.0,238.2 459.3,236.4 457.5,250.9 453.8,265.5 448.4,267.3 442.9,263.6 435.6,261.8 432.0,269.1 435.6,274.5 426.5,276.4 422.9,269.1 415.6,269.1 410.2,272.7 406.5,281.8 399.3,281.8 392.0,276.4 384.7,280.0 381.1,289.1 375.6,294.5 370.2,300.0 364.7,298.2 359.3,298.2 352.0,309.1 348.4,314.5 341.1,316.4 332.0,318.2 321.1,323.6 310.2,327.3 302.9,328.2 297.5,323.6 290.2,321.8 284.7,320.0 286.5,309.1 292.0,303.6 299.3,303.6 301.1,298.2 308.4,303.6 319.3,298.2 326.5,292.7 333.8,290.9 339.3,285.5 342.9,278.2 350.2,276.4 355.6,272.7 355.6,265.5 350.2,261.8 342.9,263.6 332.0,261.8 322.9,265.5 315.6,263.6 308.4,267.3 302.9,260.0" fill="#c0da90" fill-opacity="0.75"/>
<polygon points="569.1,490.9 575.5,482.7 585.3,476.3 595.0,466.5 598.3,461.7 608.0,456.8 624.2,455.2 640.4,450.3 656.7,447.9 666.4,447.1 672.9,440.6 684.2,435.7 685.9,424.4 689.1,414.6 695.6,408.1 705.3,404.9 715.1,401.6 728.0,395.2 741.0,390.3 758.9,387.9 763.7,395.2 778.3,396.8 781.6,409.8 782.4,424.4 784.8,437.3 786.4,453.5 786.4,460.8 770.2,461.7 745.9,463.3 729.7,460.8 711.8,463.3 697.2,464.9 681.0,469.8 672.9,476.3 669.6,482.7 656.7,486.0 648.5,490.9 640.4,495.7 624.2,499.0 608.0,499.0 591.8,497.3 575.5,495.7" fill="#c0da90" fill-opacity="0.9"/>
<polygon points="520.4,473.0 530.1,461.7 539.9,453.5 549.6,448.7 562.6,445.4 572.3,445.4 569.1,456.8 562.6,468.1 552.8,477.9 543.1,486.0 533.4,492.5 520.4,492.5 515.5,482.7" fill="#c0da90" fill-opacity="0.9" filter="url(#soft)"/>
<polygon points="137.8,520.4 141.3,513.5 149.9,507.5 158.4,501.5 168.7,494.6 175.6,488.6 182.5,481.8 189.3,476.6 199.6,475.8 206.5,470.6 215.1,463.7 223.7,459.4 230.5,460.3 237.4,462.0 244.3,462.9 242.6,472.3 237.4,479.2 232.3,484.3 223.7,489.5 220.2,494.6 211.7,499.8 203.1,503.2 196.2,506.7 189.3,504.9 182.5,506.7 175.6,508.4 165.3,510.1 158.4,515.2 148.1,522.1 141.3,522.1" fill="#c0da90" fill-opacity="0.8"/>
<polygon points="100.1,537.6 103.5,529.0 112.1,526.4 119.0,525.5 117.2,532.4 124.1,535.8 132.7,535.8 141.3,539.3 141.3,547.9 136.1,551.3 132.7,556.4 134.4,561.6 141.3,559.9 148.1,556.4 155.0,558.2 156.7,565.0 161.9,566.7 168.7,568.5 175.6,563.3 182.5,561.6 187.6,563.3 196.2,570.2 194.5,575.3 189.3,580.5 187.6,589.1 182.5,595.9 177.3,601.1 172.2,606.2 161.9,604.5 165.3,597.6 161.9,587.3 158.4,592.5 155.0,597.6 148.1,601.1 144.7,606.2 137.8,607.9 131.0,601.1 124.1,595.9 120.7,589.1 117.2,580.5 110.4,577.0 106.9,573.6 103.5,570.2 100.1,582.2 93.2,592.5 98.4,601.1 91.5,604.5 86.3,601.1 82.9,592.5 77.8,587.3 69.2,585.6 67.5,580.5 70.9,571.9 77.8,566.7 86.3,565.0 94.9,566.7 103.5,568.5 110.4,565.0 117.2,563.3 124.1,559.9 124.1,553.0 120.7,549.6 117.2,546.1 108.7,544.4 103.5,544.4" fill="#c0da90" fill-opacity="0.8"/>
<polygon points="234.0,547.3 239.2,531.8 247.8,523.2 256.3,518.1 271.8,512.9 282.1,511.2 294.1,509.5 299.3,511.2 311.3,507.8 318.1,508.6 325.0,509.5 333.6,509.5 342.2,511.2 345.6,514.6 342.2,521.5 335.3,528.4 335.3,538.7 342.2,542.1 349.0,538.7 357.6,524.9 366.2,521.5 376.5,516.4 386.8,511.2 393.7,510.3 404.0,511.2 410.8,507.8 422.0,505.2 422.0,605.6 414.3,607.3 407.4,612.5 397.1,612.5 388.5,615.9 383.4,617.6 373.1,619.4 362.8,621.1 352.5,624.5 342.2,627.9 331.9,624.5 325.0,621.1 326.7,610.8 331.9,600.5 335.3,590.2 331.9,581.6 325.0,583.3 318.1,590.2 314.7,600.5 307.8,610.8 301.0,619.4 294.1,627.9 287.2,636.5 273.5,640.0 256.3,636.5 249.5,631.4 256.3,624.5 263.2,619.4 252.9,614.2 242.6,610.8 237.5,603.9 234.0,590.2 235.7,573.0 234.0,559.3" fill="#c0da90"/>
<polygon points="392.0,509.5 398.9,511.2 402.3,516.4 412.6,511.2 419.5,509.5 426.3,504.3 433.2,494.0 436.6,495.8 438.4,504.3 446.9,500.9 450.4,506.1 457.2,507.8 460.7,500.9 464.1,502.6 469.3,506.1 476.1,502.6 483.0,500.9 488.1,504.3 498.4,507.8 508.7,511.2 515.6,512.9 522.5,514.6 532.8,516.4 546.5,521.5 556.8,524.9 562.0,530.1 556.8,535.2 546.5,540.4 536.2,537.0 522.5,531.8 515.6,531.8 512.2,535.2 510.5,542.1 510.5,549.0 519.0,550.7 519.0,555.8 512.2,559.3 507.0,562.7 505.3,571.3 500.2,571.3 496.7,576.4 491.6,583.3 488.1,597.0 477.8,597.0 469.3,600.5 464.1,597.0 457.2,593.6 448.7,590.2 440.1,595.3 434.9,603.9 426.3,605.6 416.0,609.1 404.0,612.5 397.2,609.1 392.0,605.6" fill="#c0da90"/>
<polygon points="288.6,689.7 294.4,686.8 300.1,689.7 299.1,693.5 289.6,693.5" fill="#c0da90"/>
<polygon points="395.5,687.8 404.1,686.8 405.1,690.6 396.5,692.6" fill="#c0da90"/>
<polygon points="406.5,236.4 417.5,240.0 432.0,243.6 442.9,247.3 452.0,240.0 459.3,236.4 457.5,250.9 453.8,265.5 448.4,267.3 435.6,261.8 428.4,265.5 417.5,267.3 410.2,261.8" fill="#c0da90" fill-opacity="0.75" filter="url(#soft)"/>
<polygon points="376.5,518.1 386.8,512.1 393.7,511.2 404.0,512.9 410.8,509.5 422.0,506.1 422.0,526.7 414.3,531.8 407.4,535.2 400.5,538.7 393.7,535.2 386.8,538.7 379.9,537.0 376.5,526.7" fill="#3d94ac" fill-opacity="0.45" filter="url(#soft)"/>
<polygon points="326.7,590.2 335.3,590.2 342.2,597.0 345.6,610.8 342.2,624.5 331.9,622.8 326.7,614.2" fill="#88c49c" filter="url(#soft)"/>
<polygon points="392.0,509.5 398.9,511.2 402.3,516.4 412.6,511.2 419.5,509.5 426.3,504.3 433.2,494.0 436.6,495.8 438.4,504.3 446.9,500.9 450.4,506.1 457.2,507.8 460.7,514.6 453.8,521.5 443.5,524.9 433.2,531.8 419.5,535.2 409.2,538.7 398.9,542.1 392.0,542.1" fill="#3d94ac" fill-opacity="0.45" filter="url(#soft)"/>
<polygon points="510.5,549.0 519.0,549.8 519.4,555.8 512.2,558.4" fill="#a0cc9c" filter="url(#soft)"/>
<polygon points="433.2,511.2 440.1,508.6 443.5,514.6 441.8,521.5 436.6,521.5" fill="#ffffff"/>
<polygon points="405.7,526.7 410.9,524.9 412.6,533.5 407.5,535.2" fill="#ffffff"/>
<polygon points="152.6,278.5 158.7,275.9 163.8,276.7 169.0,269.9 175.8,263.0 184.4,261.3 191.3,259.6 198.1,254.4 206.7,250.1 218.7,246.7 225.6,248.4 232.5,249.3 239.3,247.6 244.5,245.0 253.1,243.3 255.6,246.7 249.6,253.6 244.5,257.9 239.3,263.0 230.8,266.4 222.2,266.4 215.3,271.6 208.4,269.9 205.0,276.7 205.0,283.6 198.1,283.6 191.3,278.5 186.1,280.2 182.7,288.8 177.5,291.3 172.4,287.0 165.5,283.6 160.4,287.0" fill="#d8e294" fill-opacity="0.8"/>
<polygon points="476.1,502.6 483.0,500.9 495.0,506.1 508.7,511.2 522.5,514.6 532.8,516.4 546.5,521.5 556.8,524.9 562.0,530.1 556.8,535.2 546.5,540.4 536.2,537.0 522.5,531.8 512.2,528.4 498.4,521.5 488.1,516.4 477.8,509.5" fill="#d8e294" filter="url(#soft)"/>
<polygon points="126.4,647.7 137.9,642.0 141.7,626.7 149.3,621.9 158.9,624.8 170.3,624.8 181.8,628.6 189.4,634.4 200.9,638.2 210.4,642.0 219.9,640.1 227.6,638.2 239.0,638.2 250.5,643.9 261.9,645.8 269.6,653.4 280.1,657.3 279.1,661.1 271.5,663.0 269.6,672.5 261.9,671.6 254.3,674.4 242.8,672.5 235.2,673.5 223.8,672.5 212.3,672.5 204.7,668.7 197.0,664.9 185.6,661.1 174.1,659.2 166.5,663.0 155.1,664.9 143.6,664.9 136.0,661.1 130.2,655.3" fill="#d8e294"/>
<polygon points="302.0,570.3 332.3,570.3 344.4,560.2 370.7,560.2 382.8,550.1 403.0,555.2 433.3,565.3 462.0,565.3 462.0,592.5 453.5,592.5 445.4,594.5 437.4,598.6 431.3,605.7 423.2,604.6 417.2,606.7 411.1,609.7 403.0,614.7 396.9,610.7 394.9,604.6 388.9,605.7 385.8,612.7 382.8,616.8 376.7,618.8 368.7,618.8 358.6,617.8 354.5,620.8 347.5,628.9 339.4,627.9 326.2,625.9 324.2,620.8 325.2,612.7 320.2,605.7 326.2,600.6 333.3,592.5 332.3,581.4 322.2,585.5 315.1,588.5 312.1,596.6 304.0,605.7 302.0,612.7" fill="#d8e294"/>
<polygon points="242.8,643.9 254.3,643.9 261.9,647.7 258.1,655.3 246.7,655.3" fill="#a0cc9c" filter="url(#soft)"/>
<polygon points="320.2,605.7 326.2,600.6 333.3,592.5 340.4,596.6 342.4,610.7 340.4,622.8 332.3,625.9 326.2,625.9 324.2,620.8 325.2,612.7" fill="#88c49c" filter="url(#soft)"/>
<polygon points="371.7,584.4 378.8,583.4 381.8,596.6 379.8,610.7 372.7,612.7 370.7,600.6" fill="#88c49c" filter="url(#soft)"/>
<polygon points="433.3,573.3 462.0,566.3 462.0,592.5 453.5,592.5 445.4,594.5 437.4,598.6 431.3,605.7 423.2,604.6 417.2,606.7 413.1,600.6 418.2,590.5 428.3,582.4" fill="#c0da90" filter="url(#soft)"/>
<polygon points="443.4,584.4 453.5,582.4 462.0,580.4 462.0,592.5 453.5,592.5 445.4,594.5 441.4,592.5" fill="#60b494" filter="url(#soft)"/>
<polygon points="132.9,311.9 136.3,310.2 141.5,313.6 139.8,315.4 134.6,314.5" fill="#e8eca0" fill-opacity="0.8"/>
<polygon points="530.1,473.0 538.2,463.3 546.4,456.8 556.1,453.5 562.6,456.8 559.3,466.5 552.8,474.6 544.7,481.1 536.6,482.7 531.8,479.5" fill="#e8eca0" fill-opacity="0.9" filter="url(#soft)"/>
<polygon points="251.4,746.9 255.2,742.2 261.9,746.9 261.0,750.8 252.4,750.8" fill="#e8eca0"/>
<polygon points="679.4,729.3 683.7,726.4 687.8,728.5 684.6,731.8 680.5,731.3" fill="#e8eca0"/>
<polygon points="170.7,278.5 179.3,269.9 191.3,264.7 205.0,259.6 215.3,256.1 225.6,252.7 222.2,259.6 211.9,264.7 201.6,269.9 191.3,273.3 182.7,280.2 175.8,281.9" fill="#f4f4ac" filter="url(#soft)"/>
<polygon points="168.1,305.1 174.1,299.9 177.5,302.5 182.7,305.9 181.8,307.6 174.1,308.5" fill="#f4f4ac"/>
<polygon points="120.9,317.1 124.3,316.2 131.2,320.5 129.5,323.1 124.3,322.2" fill="#f4f4ac"/>
<polygon points="430.2,187.3 435.6,183.6 442.9,190.9 446.5,198.2 439.3,201.8 432.0,200.0" fill="#f4f4ac" filter="url(#soft)"/>
<polygon points="308.4,258.2 322.9,254.5 337.5,250.9 344.7,252.7 353.8,247.3 366.5,240.0 377.5,238.2 388.4,236.4 399.3,232.7 402.9,240.0 399.3,250.9 395.6,261.8 388.4,269.1 381.1,276.4 373.8,280.0 366.5,276.4 362.9,269.1 355.6,261.8 344.7,260.0 330.2,260.0 315.6,261.8" fill="#f4f4ac" filter="url(#soft)"/>
<polygon points="297.5,316.4 304.7,309.1 315.6,305.5 326.5,300.0 337.5,294.5 348.4,289.1 355.6,287.3 352.0,294.5 341.1,301.8 330.2,309.1 319.3,316.4 308.4,321.8 301.1,321.8" fill="#f4f4ac" filter="url(#soft)"/>
<polygon points="585.3,482.7 595.0,473.0 608.0,464.9 624.2,463.3 640.4,460.0 656.7,456.8 672.9,453.5 689.1,447.1 705.3,440.6 721.5,437.3 737.8,440.6 754.0,445.4 770.2,450.3 779.9,453.5 779.9,460.0 754.0,460.8 729.7,460.0 705.3,461.7 689.1,464.9 672.9,469.8 664.8,476.3 648.5,482.7 632.3,489.2 616.1,490.9 599.9,489.2" fill="#f4f4ac" filter="url(#soft)"/>
<polygon points="155.0,508.4 172.2,499.8 182.5,489.5 199.6,482.6 215.1,474.0 230.5,468.9 234.0,475.8 223.7,486.1 209.9,494.6 199.6,499.8 187.6,501.5 175.6,503.2 163.6,506.7" fill="#f4f4ac" filter="url(#soft)"/>
<polygon points="182.5,539.3 192.8,534.1 203.1,529.0 211.7,522.1 218.5,518.7 222.0,525.5 216.8,532.4 206.5,537.6 196.2,541.0 185.9,544.4" fill="#f4f4ac" filter="url(#soft)"/>
<polygon points="101.8,532.4 110.4,530.7 113.8,535.8 108.7,541.0 102.6,539.3" fill="#f4f4ac" filter="url(#soft)"/>
<polygon points="242.6,542.1 252.9,530.1 273.5,519.8 294.1,516.4 325.0,514.6 340.5,516.4 338.7,530.1 342.2,545.5 349.0,545.5 359.3,542.1 373.1,538.7 386.8,543.8 400.5,542.1 422.0,538.7 422.0,600.5 407.4,605.6 390.2,610.8 373.1,614.2 359.3,617.6 349.0,617.6 342.2,607.3 335.3,586.7 325.0,581.6 311.3,597.0 301.0,610.8 290.7,621.1 276.9,631.4 263.2,631.4 261.5,621.1 247.8,610.8 239.2,593.6 239.2,566.1" fill="#f4f4ac" filter="url(#soft)"/>
<polygon points="481.3,504.3 495.0,509.5 512.2,516.4 529.3,521.5 546.5,526.7 555.1,530.1 546.5,535.2 536.2,533.5 522.5,528.4 508.7,523.2 495.0,516.4 484.7,511.2" fill="#f4f4ac" filter="url(#soft)"/>
<polygon points="392.0,543.8 409.2,538.7 443.5,524.9 460.7,512.9 495.0,521.5 508.7,535.2 508.7,550.7 501.9,562.7 495.0,576.4 488.1,593.6 474.4,597.0 460.7,593.6 443.5,593.6 429.8,600.5 412.6,605.6 397.2,607.3 392.0,603.9" fill="#f4f4ac" filter="url(#soft)"/>
<polygon points="69.2,645.8 80.6,640.1 88.3,634.4 90.2,626.7 99.7,624.8 101.6,630.5 107.3,636.3 101.6,640.1 97.8,645.8 95.9,651.5 88.3,655.3 80.6,657.3 76.8,653.4 71.1,649.6" fill="#f4f4ac"/>
<polygon points="334.3,582.4 344.4,580.4 368.7,582.4 372.7,570.3 382.8,575.4 384.8,590.5 392.9,596.6 392.9,604.6 388.9,605.7 385.8,612.7 382.8,616.8 376.7,618.8 368.7,618.8 358.6,617.8 350.5,610.7 342.4,602.6 335.3,596.6" fill="#f4f4ac" filter="url(#soft)"/>
<polygon points="370.7,540.0 396.9,540.0 396.9,560.2 392.9,573.3 382.8,573.3 374.7,565.3 370.7,555.2" fill="#f4f4ac" filter="url(#soft)"/>
<polygon points="189.6,295.6 196.4,290.5 205.0,287.9 207.6,291.3 201.6,295.6 195.6,300.8 190.4,299.1" fill="#faf7b4"/>
<polygon points="726.4,396.0 741.0,391.1 758.9,388.7 762.1,395.2 745.9,398.4 728.0,400.0" fill="#faf7b4" filter="url(#soft)"/>
<polygon points="70.9,573.6 81.2,566.7 94.9,568.5 103.5,570.2 101.8,580.5 96.6,590.8 89.8,597.6 82.9,590.8 74.3,583.9" fill="#faf7b4" filter="url(#soft)"/>
<polygon points="117.2,566.7 127.5,563.3 141.3,565.0 151.6,570.2 160.2,580.5 161.9,590.8 155.0,595.9 144.7,597.6 134.4,592.5 124.1,585.6 119.0,577.0" fill="#faf7b4" filter="url(#soft)"/>
<polygon points="132.2,649.6 141.7,634.4 151.2,626.7 166.5,628.6 185.6,636.3 200.9,643.9 212.3,649.6 210.4,664.9 197.0,661.1 181.8,659.2 166.5,659.2 151.2,661.1 137.9,657.3" fill="#faf7b4" filter="url(#soft)"/>
<polygon points="212.3,647.7 223.8,645.8 235.2,645.8 242.8,649.6 244.7,663.0 235.2,666.8 223.8,666.8 214.2,663.0" fill="#faf7b4" filter="url(#soft)"/>
<polygon points="633.2,764.4 636.9,762.8 641.7,766.8 637.7,770.5 633.7,769.2" fill="#faf7b4"/>
<polygon points="283.8,521.5 297.5,514.6 311.3,512.9 325.0,511.2 338.7,512.9 338.7,521.5 331.9,528.4 325.0,531.8 311.3,531.8 301.0,526.7 290.7,526.7" fill="#f6efac" filter="url(#soft)"/>
<circle cx="176.2" cy="283.9" r="2.1" fill="#f2e6a0" filter="url(#soft)"/>
<polygon points="624.2,476.3 640.4,473.0 656.7,469.8 664.8,473.0 648.5,479.5 632.3,481.1" fill="#f2e6a0" filter="url(#soft)"/>
<polygon points="101.6,663.0 109.3,659.2 116.9,661.1 122.6,666.8 128.3,670.6 126.4,674.4 118.8,675.4 109.3,674.4 103.5,670.6" fill="#f2e6a0"/>
<polygon points="250.5,632.4 258.1,624.8 265.7,619.1 281.0,617.2 292.5,621.0 286.7,630.5 277.2,642.0 269.6,649.6 261.9,645.8 254.3,638.2" fill="#f2e6a0"/>
<circle cx="176.7" cy="276.7" r="3.1" fill="#eed88a" filter="url(#soft)"/>
<circle cx="200.7" cy="263.9" r="3.1" fill="#eed88a" filter="url(#soft)"/>
<polygon points="312.0,258.2 319.3,257.3 326.5,254.5 333.8,251.8 341.1,250.0 342.0,254.5 330.2,259.1 319.3,261.8 312.9,261.8" fill="#eed88a" filter="url(#soft)"/>
<polygon points="748.3,356.2 757.2,353.8 761.3,361.1 757.2,365.1 749.1,366.8" fill="#eed88a"/>
<circle cx="155.0" cy="510.1" r="2.6" fill="#eed88a" filter="url(#soft)"/>
<circle cx="79.5" cy="577.0" r="6.0" fill="#eed88a" filter="url(#soft)"/>
<circle cx="167.4" cy="575.3" r="4.3" fill="#eed88a" filter="url(#soft)"/>
<circle cx="318.4" cy="314.5" r="5.1" fill="#eec67c" filter="url(#soft)"/>
<polygon points="668.0,453.5 676.1,443.8 689.1,437.3 689.1,424.4 695.6,414.6 708.6,408.1 721.5,403.3 737.8,398.4 754.0,393.5 770.2,397.6 778.3,404.9 779.9,421.1 781.6,437.3 783.2,453.5 770.2,455.2 754.0,453.5 737.8,451.9 721.5,450.3 705.3,453.5 689.1,456.8 672.9,460.0" fill="#eec67c" filter="url(#soft)"/>
<circle cx="224.7" cy="657.3" r="5.7" fill="#eec67c" filter="url(#soft)"/>
<polygon points="332.3,598.6 340.4,596.6 345.4,602.6 344.4,612.7 338.4,614.7 333.3,609.7" fill="#eec67c" filter="url(#soft)"/>
<polygon points="361.1,245.5 366.5,238.2 373.8,240.0 381.1,245.5 388.4,249.1 390.2,258.2 386.5,265.5 381.1,269.1 375.6,263.6 368.4,260.0 362.0,254.5" fill="#eeb470" filter="url(#soft)"/>
<circle cx="90.6" cy="594.2" r="5.2" fill="#eeb470" filter="url(#soft)"/>
<polygon points="117.2,568.5 127.5,565.0 137.8,568.5 148.1,573.6 155.0,582.2 158.4,589.1 153.3,592.5 144.7,590.8 137.8,585.6 127.5,580.5 120.7,575.3" fill="#eeb470" filter="url(#soft)"/>
<circle cx="541.4" cy="529.2" r="6.0" fill="#eeb470" filter="url(#soft)"/>
<circle cx="113.1" cy="666.8" r="4.8" fill="#eeb470" filter="url(#soft)"/>
<circle cx="273.4" cy="632.4" r="5.7" fill="#eeb470" filter="url(#soft)"/>
<circle cx="155.9" cy="585.6" r="3.1" fill="#eeb470" filter="url(#soft)"/>
<polygon points="182.5,487.8 196.2,482.6 209.9,480.9 220.2,482.6 223.7,487.8 213.4,494.6 203.1,499.8 194.5,499.8 185.9,494.6" fill="#eea262" filter="url(#soft)"/>
<polygon points="196.2,532.4 206.5,525.5 215.1,520.4 218.5,525.5 211.7,532.4 201.4,535.8" fill="#eea262" filter="url(#soft)"/>
<polygon points="134.1,647.7 143.6,640.1 153.1,634.4 166.5,636.3 178.0,642.0 189.4,647.7 202.8,651.5 210.4,657.3 208.5,664.9 200.9,664.9 189.4,659.2 178.0,655.3 166.5,653.4 155.1,657.3 143.6,657.3 136.0,653.4" fill="#eea262" filter="url(#soft)"/>
<polygon points="399.0,560.2 407.1,552.1 418.2,548.1 428.3,546.1 433.3,555.2 432.3,570.3 428.3,582.4 423.2,588.5 413.1,590.5 405.0,587.5 401.0,580.4" fill="#eea262" filter="url(#soft)"/>
<polygon points="376.5,250.9 384.7,250.9 388.4,258.2 382.9,263.6 377.5,260.0" fill="#ee9050" filter="url(#soft)"/>
<polygon points="702.1,416.2 715.1,408.1 729.7,403.3 745.9,400.0 762.1,401.6 778.3,408.1 779.9,421.1 776.7,430.8 767.0,437.3 757.2,442.2 741.0,443.8 724.8,440.6 711.8,439.0 702.1,432.5 697.2,424.4" fill="#ee9050" filter="url(#soft)"/>
<polygon points="392.0,545.5 405.7,542.1 419.5,538.7 433.2,531.8 443.5,526.7 453.8,521.5 460.7,514.6 467.5,512.9 477.8,514.6 488.1,518.1 498.4,524.9 505.3,531.8 508.7,542.1 505.3,552.4 498.4,559.3 495.0,569.6 489.9,579.9 484.7,590.2 474.4,593.6 467.5,590.2 460.7,586.7 452.1,583.3 443.5,579.9 434.9,583.3 429.8,590.2 422.9,597.0 412.6,600.5 402.3,603.9 392.0,603.9" fill="#ee9050" filter="url(#soft)"/>
<polygon points="702.1,416.2 770.2,401.6 779.9,421.1 779.9,445.4 702.1,445.4" fill="#ee9050" fill-opacity="0"/>
<polygon points="426.3,583.3 436.6,574.7 448.7,573.0 457.2,569.6 460.7,576.4 457.2,586.7 450.4,590.2 443.5,593.6 433.2,597.0" fill="#e8eca0" filter="url(#soft)"/>
<polygon points="462.4,573.0 474.4,569.6 488.1,573.0 491.6,583.3 486.4,593.6 474.4,595.3 465.8,590.2" fill="#eec67c" filter="url(#soft)"/>
<polygon points="393.7,552.4 402.3,550.7 410.9,557.6 405.7,561.0 395.4,559.3" fill="#ffffff"/>
<polygon points="714.1,414.9 738.1,397.9 744.1,402.0 720.1,419.0" fill="#eed88a"/>
<polygon points="702.1,440.1 772.0,433.1 772.0,438.0 702.1,445.1" fill="#eed88a" filter="url(#soft)"/>
<polygon points="692.0,423.1 715.1,408.0 718.9,412.0 696.1,428.1" fill="#eed88a"/>
<circle cx="450.4" cy="588.5" r="3.4" fill="#60b494" filter="url(#soft)"/>
<polygon points="239.2,547.3 247.8,535.2 256.3,526.7 273.5,519.8 287.2,518.1 297.5,521.5 304.4,530.1 314.7,531.8 325.0,535.2 342.2,538.7 345.6,545.5 338.7,555.8 331.9,566.1 325.0,574.7 318.1,579.9 307.8,586.7 295.8,590.2 287.2,593.6 278.7,600.5 273.5,607.3 264.9,612.5 252.9,614.2 242.6,609.1 239.2,600.5 240.9,590.2 239.2,579.9 237.5,566.1" fill="#ee7c48" filter="url(#soft)"/>
<polygon points="386.8,559.3 393.7,552.4 404.0,550.7 414.3,549.0 422.0,549.0 422.0,593.6 414.3,597.0 404.0,600.5 397.1,597.0 393.7,583.3 388.5,573.0" fill="#ee7c48" filter="url(#soft)"/>
<polygon points="158.9,638.2 174.1,638.2 185.6,645.8 189.4,653.4 181.8,655.3 170.3,649.6 160.8,645.8" fill="#ee7c48" filter="url(#soft)"/>
<circle cx="255.2" cy="665.8" r="4.2" fill="#ee7c48" filter="url(#soft)"/>
<polygon points="287.2,526.7 294.1,521.5 302.7,524.9 297.5,531.8 290.7,533.5" fill="#eeb470" filter="url(#soft)"/>
<polygon points="256.3,590.2 270.1,586.7 283.8,590.2 294.1,593.6 297.5,607.3 294.1,617.6 287.2,624.5 276.9,627.9 266.6,621.1 259.8,610.8 256.3,600.5" fill="#eed88a" filter="url(#soft)"/>
<circle cx="287.2" cy="615.9" r="6.9" fill="#eeb470" filter="url(#soft)"/>
<circle cx="207.4" cy="490.3" r="5.2" fill="#ea6640" filter="url(#soft)"/>
<polygon points="343.9,559.3 352.5,552.4 362.8,552.4 369.6,559.3 369.6,573.0 362.8,583.3 357.6,593.6 352.5,603.9 350.8,615.9 347.3,621.1 342.2,619.4 342.2,607.3 349.0,593.6 345.6,579.9 342.2,569.6" fill="#ea6640" filter="url(#soft)"/>
<polygon points="342.4,606.7 347.5,602.6 352.5,604.6 354.5,612.7 351.5,620.8 345.4,621.8 342.9,616.8" fill="#ea6640" filter="url(#soft)"/>
<polygon points="344.4,558.2 350.5,550.1 358.6,549.1 366.6,556.2 370.7,565.3 368.7,580.4 362.6,588.5 358.6,600.6 352.5,600.6 348.5,588.5 344.4,576.4" fill="#ea6640" filter="url(#soft)"/>
<polygon points="383.8,556.2 387.9,550.1 390.9,555.2 391.9,566.3 388.9,573.3 384.8,572.3 382.8,565.3" fill="#ea6640" filter="url(#soft)"/>
<circle cx="388.2" cy="563.6" r="4.8" fill="#e0543e" filter="url(#soft)"/>
<polygon points="395.4,576.4 402.3,573.0 409.2,576.4 405.7,590.2 398.9,600.5 393.7,597.0" fill="#e0543e" filter="url(#soft)"/>
<polygon points="395.9,580.4 400.0,573.3 407.1,571.3 412.1,578.4 411.1,588.5 407.1,594.5 402.0,600.6 398.0,605.7 394.9,596.6" fill="#e0543e" filter="url(#soft)"/>
<polygon points="708.6,426.0 718.3,421.1 728.0,417.9 737.8,414.6 747.5,406.5 757.2,404.9 763.7,411.4 778.3,409.8 781.6,417.9 770.2,421.1 763.7,427.6 757.2,434.1 747.5,437.3 737.8,439.0 724.8,437.3 715.1,437.3 708.6,434.1" fill="#d84444" filter="url(#soft)"/>
<polygon points="120.7,585.6 127.5,580.5 137.8,582.2 144.7,587.3 146.4,597.6 139.6,601.1 131.0,597.6 122.4,592.5" fill="#d84444" filter="url(#soft)"/>
<polygon points="246.0,552.4 256.3,542.1 266.6,535.2 280.4,535.2 294.1,538.7 304.4,545.5 318.1,550.7 331.9,550.7 342.2,545.5 338.7,559.3 328.4,569.6 318.1,578.2 304.4,583.3 290.7,581.6 278.7,579.9 270.1,579.9 263.2,586.7 259.8,597.0 256.3,607.3 247.8,609.1 242.6,602.2 246.0,590.2 247.8,576.4 246.0,562.7" fill="#d84444" filter="url(#soft)"/>
<polygon points="426.3,549.0 436.6,538.7 448.7,530.1 460.7,521.5 469.3,518.1 481.3,523.2 491.6,528.4 501.9,535.2 505.3,543.8 500.2,552.4 491.6,559.3 477.8,561.0 467.5,562.7 457.2,564.4 446.9,566.1 436.6,564.4 429.8,559.3" fill="#d84444" filter="url(#soft)"/>
<circle cx="400.5" cy="580.7" r="6.5" fill="#c83448" filter="url(#soft)"/>
<circle cx="715.9" cy="433.3" r="4.1" fill="#b8244c" filter="url(#soft)"/>
<circle cx="774.3" cy="413.8" r="4.9" fill="#b8244c" filter="url(#soft)"/>
<polygon points="304.4,555.8 314.7,554.1 325.0,557.6 328.4,566.1 321.6,573.0 311.3,574.7 302.7,569.6 297.5,562.7" fill="#b8244c" filter="url(#soft)"/>
<circle cx="250.3" cy="579.9" r="5.5" fill="#b8244c" filter="url(#soft)"/>
<circle cx="249.5" cy="603.9" r="5.5" fill="#b8244c" filter="url(#soft)"/>
<circle cx="275.2" cy="573.0" r="6.9" fill="#b8244c" filter="url(#soft)"/>
<circle cx="356.8" cy="573.0" r="6.9" fill="#b8244c" filter="url(#soft)"/>
<polygon points="448.7,543.8 457.2,538.7 467.5,540.4 474.4,547.3 471.0,555.8 460.7,557.6 450.4,552.4" fill="#b8244c" filter="url(#soft)"/>
<circle cx="399.2" cy="581.6" r="4.1" fill="#b8244c" filter="url(#soft)"/>
<polygon points="347.5,570.3 354.5,565.3 362.6,566.3 366.6,573.3 362.6,582.4 354.5,582.4 348.5,578.4" fill="#b8244c" filter="url(#soft)"/>
<circle cx="401.0" cy="580.4" r="3.0" fill="#b8244c" filter="url(#soft)"/>
<circle cx="131.3" cy="588.2" r="4.8" fill="#a8104f" filter="url(#soft)"/>
<circle cx="734.5" cy="428.4" r="7.8" fill="#b01c6c" filter="url(#soft)"/>
<circle cx="754.0" cy="413.0" r="6.5" fill="#b01c6c" filter="url(#soft)"/>
<circle cx="735.8" cy="425.6" r="3.9" fill="#e46aa8" filter="url(#soft)"/></g>
<polygon points="523.3,472.7 527.7,477.1 523.3,481.5 518.9,477.1" fill="#060606"/>
</g>
<rect x="0" y="72" width="800" height="800" fill="none" stroke="#000" stroke-width="2"/>
<line x1="182.7" y1="872" x2="182.7" y2="882.5" stroke="#000" stroke-width="2"/>
<text transform="translate(182.7,914.5) scale(1,1.06)" font-size="28" text-anchor="middle">−108</text>
<line x1="454.0" y1="872" x2="454.0" y2="882.5" stroke="#000" stroke-width="2"/>
<text transform="translate(454.0,914.5) scale(1,1.06)" font-size="28" text-anchor="middle">−107</text>
<line x1="725.4" y1="872" x2="725.4" y2="882.5" stroke="#000" stroke-width="2"/>
<text transform="translate(725.4,914.5) scale(1,1.06)" font-size="28" text-anchor="middle">−106</text>
<line x1="-10.5" y1="105.9" x2="0" y2="105.9" stroke="#000" stroke-width="2"/>
<text transform="translate(-21,115.9) scale(1,1.06)" font-size="28" text-anchor="end">41.5</text>
<line x1="-10.5" y1="283.6" x2="0" y2="283.6" stroke="#000" stroke-width="2"/>
<text transform="translate(-21,293.6) scale(1,1.06)" font-size="28" text-anchor="end">41.0</text>
<line x1="-10.5" y1="461.2" x2="0" y2="461.2" stroke="#000" stroke-width="2"/>
<text transform="translate(-21,471.2) scale(1,1.06)" font-size="28" text-anchor="end">40.5</text>
<line x1="-10.5" y1="638.9" x2="0" y2="638.9" stroke="#000" stroke-width="2"/>
<text transform="translate(-21,648.9) scale(1,1.06)" font-size="28" text-anchor="end">40.0</text>
<line x1="-10.5" y1="816.6" x2="0" y2="816.6" stroke="#000" stroke-width="2"/>
<text transform="translate(-21,826.6) scale(1,1.06)" font-size="28" text-anchor="end">39.5</text>
<text transform="translate(400,58) scale(1,1.075)" font-size="28" font-weight="bold" text-anchor="middle">SEA-POL 20250413 2248-2248 UTC Reflectivity at 2.0°</text>
<text transform="translate(400,953) scale(1,1.06)" font-size="28" text-anchor="middle">Longitude</text>
<text transform="translate(-89,471) rotate(-90) scale(1,1.06)" font-size="28" text-anchor="middle">Latitude</text>
</g>
<rect x="1934" y="857.45" width="24" height="15.15" fill="#060606"/>
<rect x="1934" y="842.91" width="24" height="15.15" fill="#121218"/>
<rect x="1934" y="828.36" width="24" height="15.15" fill="#1a1622"/>
<rect x="1934" y="813.82" width="24" height="15.15" fill="#221d30"/>
<rect x="1934" y="799.27" width="24" height="15.15" fill="#2a2438"/>
<rect x="1934" y="784.73" width="24" height="15.15" fill="#302848"/>
<rect x="1934" y="770.18" width="24" height="15.15" fill="#3a3058"/>
<rect x="1934" y="755.64" width="24" height="15.15" fill="#423668"/>
<rect x="1934" y="741.09" width="24" height="15.15" fill="#483a74"/>
<rect x="1934" y="726.55" width="24" height="15.15" fill="#4e4080"/>
<rect x="1934" y="712.00" width="24" height="15.15" fill="#584690"/>
<rect x="1934" y="697.45" width="24" height="15.15" fill="#604ca0"/>
<rect x="1934" y="682.91" width="24" height="15.15" fill="#6458b0"/>
<rect x="1934" y="668.36" width="24" height="15.15" fill="#5a68b8"/>
<rect x="1934" y="653.82" width="24" height="15.15" fill="#4a78c0"/>
<rect x="1934" y="639.27" width="24" height="15.15" fill="#3a88c0"/>
<rect x="1934" y="624.73" width="24" height="15.15" fill="#3d94ac"/>
<rect x="1934" y="610.18" width="24" height="15.15" fill="#48a0a0"/>
<rect x="1934" y="595.64" width="24" height="15.15" fill="#55aa98"/>
<rect x="1934" y="581.09" width="24" height="15.15" fill="#60b494"/>
<rect x="1934" y="566.55" width="24" height="15.15" fill="#70bc94"/>
<rect x="1934" y="552.00" width="24" height="15.15" fill="#88c49c"/>
<rect x="1934" y="537.45" width="24" height="15.15" fill="#a0cc9c"/>
<rect x="1934" y="522.91" width="24" height="15.15" fill="#c0da90"/>
<rect x="1934" y="508.36" width="24" height="15.15" fill="#d8e294"/>
<rect x="1934" y="493.82" width="24" height="15.15" fill="#e8eca0"/>
<rect x="1934" y="479.27" width="24" height="15.15" fill="#f4f4ac"/>
<rect x="1934" y="464.73" width="24" height="15.15" fill="#faf7b4"/>
<rect x="1934" y="450.18" width="24" height="15.15" fill="#f6efac"/>
<rect x="1934" y="435.64" width="24" height="15.15" fill="#f2e6a0"/>
<rect x="1934" y="421.09" width="24" height="15.15" fill="#eed88a"/>
<rect x="1934" y="406.55" width="24" height="15.15" fill="#eec67c"/>
<rect x="1934" y="392.00" width="24" height="15.15" fill="#eeb470"/>
<rect x="1934" y="377.45" width="24" height="15.15" fill="#eea262"/>
<rect x="1934" y="362.91" width="24" height="15.15" fill="#ee9050"/>
<rect x="1934" y="348.36" width="24" height="15.15" fill="#ee7c48"/>
<rect x="1934" y="333.82" width="24" height="15.15" fill="#ea6640"/>
<rect x="1934" y="319.27" width="24" height="15.15" fill="#e0543e"/>
<rect x="1934" y="304.73" width="24" height="15.15" fill="#d84444"/>
<rect x="1934" y="290.18" width="24" height="15.15" fill="#c83448"/>
<rect x="1934" y="275.64" width="24" height="15.15" fill="#b8244c"/>
<rect x="1934" y="261.09" width="24" height="15.15" fill="#a8104f"/>
<rect x="1934" y="246.55" width="24" height="15.15" fill="#9c0858"/>
<rect x="1934" y="232.00" width="24" height="15.15" fill="#b01c6c"/>
<rect x="1934" y="217.45" width="24" height="15.15" fill="#c82880"/>
<rect x="1934" y="202.91" width="24" height="15.15" fill="#dc4498"/>
<rect x="1934" y="188.36" width="24" height="15.15" fill="#e46aa8"/>
<rect x="1934" y="173.82" width="24" height="15.15" fill="#e484b8"/>
<rect x="1934" y="159.27" width="24" height="15.15" fill="#e0a0d4"/>
<rect x="1934" y="144.73" width="24" height="15.15" fill="#ae84c4"/>
<rect x="1934" y="130.18" width="24" height="15.15" fill="#a06cb4"/>
<rect x="1934" y="115.64" width="24" height="15.15" fill="#8c4ea0"/>
<rect x="1934" y="101.09" width="24" height="15.15" fill="#682274"/>
<rect x="1934" y="86.55" width="24" height="15.15" fill="#52105e"/>
<rect x="1934" y="72.00" width="24" height="15.15" fill="#3c0048"/>
<rect x="1934" y="72" width="24" height="800" fill="none" stroke="#000" stroke-width="2"/>
<line x1="1958" y1="872.00" x2="1969" y2="872.00" stroke="#000" stroke-width="2"/>
<text transform="translate(1976,882.20) scale(1,1.06)" font-size="28">−10</text>
<line x1="1958" y1="799.27" x2="1969" y2="799.27" stroke="#000" stroke-width="2"/>
<text transform="translate(1976,809.47) scale(1,1.06)" font-size="28">−5</text>
<line x1="1958" y1="726.55" x2="1969" y2="726.55" stroke="#000" stroke-width="2"/>
<text transform="translate(1976,736.75) scale(1,1.06)" font-size="28">0</text>
<line x1="1958" y1="653.82" x2="1969" y2="653.82" stroke="#000" stroke-width="2"/>
<text transform="translate(1976,664.02) scale(1,1.06)" font-size="28">5</text>
<line x1="1958" y1="581.09" x2="1969" y2="581.09" stroke="#000" stroke-width="2"/>
<text transform="translate(1976,591.29) scale(1,1.06)" font-size="28">10</text>
<line x1="1958" y1="508.36" x2="1969" y2="508.36" stroke="#000" stroke-width="2"/>
<text transform="translate(1976,518.56) scale(1,1.06)" font-size="28">15</text>
<line x1="1958" y1="435.64" x2="1969" y2="435.64" stroke="#000" stroke-width="2"/>
<text transform="translate(1976,445.84) scale(1,1.06)" font-size="28">20</text>
<line x1="1958" y1="362.91" x2="1969" y2="362.91" stroke="#000" stroke-width="2"/>
<text transform="translate(1976,373.11) scale(1,1.06)" font-size="28">25</text>
<line x1="1958" y1="290.18" x2="1969" y2="290.18" stroke="#000" stroke-width="2"/>
<text transform="translate(1976,300.38) scale(1,1.06)" font-size="28">30</text>
<line x1="1958" y1="217.45" x2="1969" y2="217.45" stroke="#000" stroke-width="2"/>
<text transform="translate(1976,227.65) scale(1,1.06)" font-size="28">35</text>
<line x1="1958" y1="144.73" x2="1969" y2="144.73" stroke="#000" stroke-width="2"/>
<text transform="translate(1976,154.93) scale(1,1.06)" font-size="28">40</text>
<line x1="1958" y1="72.00" x2="1969" y2="72.00" stroke="#000" stroke-width="2"/>
<text transform="translate(1976,82.20) scale(1,1.06)" font-size="28">45</text>
<text transform="translate(2061,472) rotate(-90) scale(1,1.06)" font-size="28" text-anchor="middle">dBZ</text>
</svg></body></html>
